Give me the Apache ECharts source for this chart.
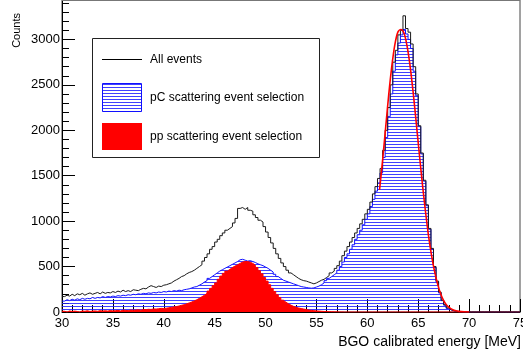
<!DOCTYPE html>
<html>
<head>
<meta charset="utf-8">
<script src="https://cdn.jsdelivr.net/npm/echarts@6/dist/echarts.min.js"></script>
<style>
  html, body { margin: 0; padding: 0; background: #ffffff; }
  #chart { width: 523px; height: 349px; }
</style>
</head>
<body>
<div id="chart"></div>
<script>
// Histogram binning: 0.25 MeV bins starting at 30 MeV (180 bins up to 75 MeV)
const binStart = 30;
const binWidth = 0.25;

// All events (one row per MeV, four bins each)
const allEvents = [
  170, 185, 175, 195,   180, 200, 190, 205,   185, 200, 210, 195,   205, 215, 200, 220,
  205, 215, 210, 225,   215, 230, 220, 240,   225, 235, 225, 245,   240, 235, 250, 260,
  255, 275, 290, 280,   270, 285, 280, 295,   300, 310, 320, 340,   355, 370, 390, 400,
  420, 435, 445, 460,   480, 500, 520, 560,   600, 640, 690, 720,   770, 800, 840, 870,
  900, 920, 940, 980,   1030, 1140, 1150, 1130, 1150, 1120, 1110, 1070, 1040, 1010, 990, 940,
  880, 820, 760, 700,   640, 590, 540, 500,   460, 430, 410, 390,   370, 355, 345, 340,
  330, 320, 310, 320,   335, 350, 360, 380,   400, 430, 450, 480,   510, 560, 620, 670,
  720, 770, 820, 870,   920, 970, 1020, 1080, 1130, 1210, 1300, 1380, 1470, 1580, 1780, 2000,
  2250, 2500, 2750, 2880, 3050, 3100, 3260, 3120, 3080, 2950, 2700, 2400, 2050, 1750, 1450, 1180,
  920, 700, 500, 340,   220, 130, 80, 45,     25, 15, 8, 5,         3, 2, 1, 0,
  0, 0, 0, 0,   0, 0, 0, 0,   0, 0, 0, 0,   0, 0, 0, 0,   0, 0, 0, 0
];

// pC scattering event selection
const pcSelection = [
  120, 135, 125, 140,   130, 145, 135, 150,   140, 150, 145, 160,   150, 160, 155, 170,
  160, 170, 165, 175,   170, 180, 175, 185,   180, 190, 185, 195,   190, 200, 195, 205,
  200, 210, 205, 215,   210, 220, 215, 225,   220, 230, 225, 235,   230, 240, 235, 245,
  250, 255, 265, 275,   280, 295, 310, 330,   345, 370, 390, 410,   430, 450, 465, 480,
  495, 510, 525, 540,   555, 575, 580, 570,   560, 565, 555, 545,   530, 520, 510, 495,
  480, 460, 440, 415,   390, 370, 350, 340,   330, 320, 310, 300,   290, 280, 275, 270,
  265, 262, 265, 275,   285, 300, 320, 345,   370, 390, 410, 430,   460, 500, 550, 600,
  640, 690, 740, 800,   850, 900, 960, 1020,  1080, 1160, 1240, 1330, 1420, 1530, 1700, 1920,
  2150, 2400, 2650, 2830, 2960, 3050, 3110, 3060, 3000, 2900, 2650, 2380, 2040, 1740, 1440, 1170,
  910, 690, 490, 330,   210, 125, 75, 40,     22, 12, 7, 4,         2, 1, 0, 0,
  0, 0, 0, 0,   0, 0, 0, 0,   0, 0, 0, 0,   0, 0, 0, 0,   0, 0, 0, 0
];

// pp scattering event selection
const ppSelection = [
  8, 0, 12, 5,     10, 6, 0, 12,     8, 14, 6, 10,     12, 8, 15, 10,
  14, 10, 16, 12,  15, 18, 12, 20,   18, 15, 22, 20,   22, 25, 20, 28,
  26, 30, 28, 34,  32, 36, 40, 38,   42, 46, 52, 56,   60, 66, 74, 80,
  90, 100, 110, 122, 135, 150, 168, 185, 205, 230, 260, 290, 320, 360, 395, 425,
  450, 470, 490, 505, 520, 535, 550, 555, 555, 548, 535, 515, 490, 455, 420, 380,
  340, 300, 260, 225, 190, 160, 130, 108, 90, 75, 62, 52,   44, 38, 32, 27,
  22, 18, 15, 12,  10, 8, 6, 5,      4, 3, 2, 2,       1, 1, 0, 0,
  0, 0, 0, 0,  0, 0, 0, 0,  0, 0, 0, 0,  0, 0, 0, 0,  0, 0, 0, 0,  0, 0, 0, 0,
  0, 0, 0, 0,  0, 0, 0, 0,  0, 0, 0, 0,  0, 0, 0, 0,  0, 0, 0, 0,  0, 0, 0, 0,
  0, 0, 0, 0,  0, 0, 0, 0,  0, 0, 0, 0,  0, 0, 0, 0,  0, 0, 0, 0
];

// Fitted peak curve (energy in MeV, counts)
const fitEnergy = [61.2, 61.5, 61.8, 62.1, 62.4, 62.7, 63.0, 63.3, 63.6, 63.9, 64.2, 64.5, 64.8,
  65.1, 65.4, 65.7, 66.0, 66.3, 66.6, 66.9, 67.2, 67.5, 67.8, 68.1, 68.4, 68.7, 69.0, 69.5, 70.0];
const fitCounts = [1345, 1670, 2030, 2390, 2700, 2940, 3080, 3110, 3070, 2930, 2710, 2420, 2090,
  1750, 1420, 1120, 850, 630, 450, 310, 200, 125, 75, 45, 25, 13, 7, 2, 0];

const xTitle = 'BGO calibrated energy [MeV]';
const yTitle = 'Counts';
const legendLabels = ['All events', 'pC scattering event selection', 'pp scattering event selection'];

const FONT = '"Liberation Sans", Arial, Helvetica, sans-serif';

// Step outline points: each bin starts at its left edge, last point closes the final bin
function stepPoints(values) {
  const pts = values.map((v, i) => [binStart + i * binWidth, v]);
  pts.push([binStart + values.length * binWidth, values[values.length - 1]]);
  return pts;
}

// Horizontal hatch used for the pC selection fill
function makeHatch(w, h, color) {
  const c = document.createElement('canvas');
  c.width = w; c.height = h;
  const g = c.getContext('2d');
  g.fillStyle = color;
  g.fillRect(0, 0, w, 1);
  return c;
}
const hatchCanvas = makeHatch(4, 3, 'rgba(30,30,255,0.85)');

const chart = echarts.init(document.getElementById('chart'), null, { renderer: 'canvas' });

const axisColor = '#000';

chart.setOption({
  animation: false,
  backgroundColor: '#ffffff',
  grid: {
    left: 62, right: 3, top: -6, bottom: 37,
    show: true, borderColor: '#444', borderWidth: 1,
    containLabel: false, outerBoundsMode: 'none'
  },
  xAxis: {
    type: 'value', min: 30, max: 75, interval: 5,
    axisLine: { onZero: false, lineStyle: { color: axisColor, width: 1 } },
    axisTick: { inside: true, length: 13, lineStyle: { color: axisColor } },
    minorTick: { show: true, splitNumber: 5, length: 7, lineStyle: { color: axisColor } },
    splitLine: { show: false },
    axisLabel: { margin: 5, fontSize: 13, color: '#000', fontFamily: FONT, formatter: v => String(v) }
  },
  yAxis: {
    type: 'value', min: 0, max: 3500, interval: 500,
    axisLine: { show: true, lineStyle: { color: axisColor, width: 1 } },
    axisTick: { inside: true, length: 13, lineStyle: { color: axisColor } },
    minorTick: { show: true, splitNumber: 5, length: 7, lineStyle: { color: axisColor } },
    splitLine: { show: false },
    axisLabel: { margin: 2, fontSize: 13, color: '#000', fontFamily: FONT, showMaxLabel: false, formatter: v => String(v) }
  },
  series: [
    {
      name: legendLabels[1], type: 'line', step: 'end', symbol: 'none',
      data: stepPoints(pcSelection),
      lineStyle: { color: '#1010ff', width: 1 },
      areaStyle: { color: { image: hatchCanvas, repeat: 'repeat' }, opacity: 1 },
      z: 2
    },
    {
      name: legendLabels[2], type: 'line', step: 'end', symbol: 'none',
      data: stepPoints(ppSelection),
      lineStyle: { color: '#ff0000', width: 1 },
      areaStyle: { color: '#ff0000', opacity: 1 },
      z: 3
    },
    {
      name: legendLabels[0], type: 'line', step: 'end', symbol: 'none',
      data: stepPoints(allEvents),
      lineStyle: { color: '#1a1a1a', width: 1 },
      z: 4
    },
    {
      name: 'fit', type: 'line', smooth: 0.3, symbol: 'none',
      data: fitEnergy.map((e, i) => [e, fitCounts[i]]),
      lineStyle: { color: '#ff0000', width: 1.6 },
      z: 5
    }
  ],
  graphic: [
    // top edge of the frame
    { type: 'line', z: 50, shape: { x1: 62, y1: 0.5, x2: 520, y2: 0.5 }, style: { stroke: '#777', lineWidth: 1 } },
    // axis titles
    { type: 'text', z: 50, x: 521, y: 342,
      style: { text: xTitle, font: '14px ' + FONT, fill: '#000', align: 'right', verticalAlign: 'middle', textAlign: 'right', textVerticalAlign: 'middle' } },
    { type: 'text', z: 50, x: 17, y: 13, rotation: Math.PI / 2,
      style: { text: yTitle, font: '11px ' + FONT, fill: '#000', align: 'right', verticalAlign: 'middle', textAlign: 'right', textVerticalAlign: 'middle' } },
    // legend box
    { type: 'rect', z: 60, shape: { x: 92.5, y: 38.5, width: 227, height: 119 },
      style: { fill: '#ffffff', stroke: '#222', lineWidth: 1 } },
    { type: 'line', z: 61, shape: { x1: 102, y1: 59.5, x2: 142, y2: 59.5 }, style: { stroke: '#000', lineWidth: 1 } },
    { type: 'rect', z: 61, shape: { x: 102.5, y: 83.5, width: 39, height: 28 },
      style: { fill: { image: makeHatch(4, 3, 'rgba(30,30,255,0.85)'), repeat: 'repeat' }, stroke: '#1010ff', lineWidth: 1 } },
    { type: 'rect', z: 61, shape: { x: 102, y: 123, width: 40, height: 27 }, style: { fill: '#ff0000' } },
    { type: 'text', z: 61, x: 150, y: 60,
      style: { text: legendLabels[0], font: '12px ' + FONT, fill: '#000', verticalAlign: 'middle', textVerticalAlign: 'middle' } },
    { type: 'text', z: 61, x: 150, y: 98,
      style: { text: legendLabels[1], font: '12px ' + FONT, fill: '#000', verticalAlign: 'middle', textVerticalAlign: 'middle' } },
    { type: 'text', z: 61, x: 150, y: 136.5,
      style: { text: legendLabels[2], font: '12px ' + FONT, fill: '#000', verticalAlign: 'middle', textVerticalAlign: 'middle' } }
  ]
});
</script>
</body>
</html>
